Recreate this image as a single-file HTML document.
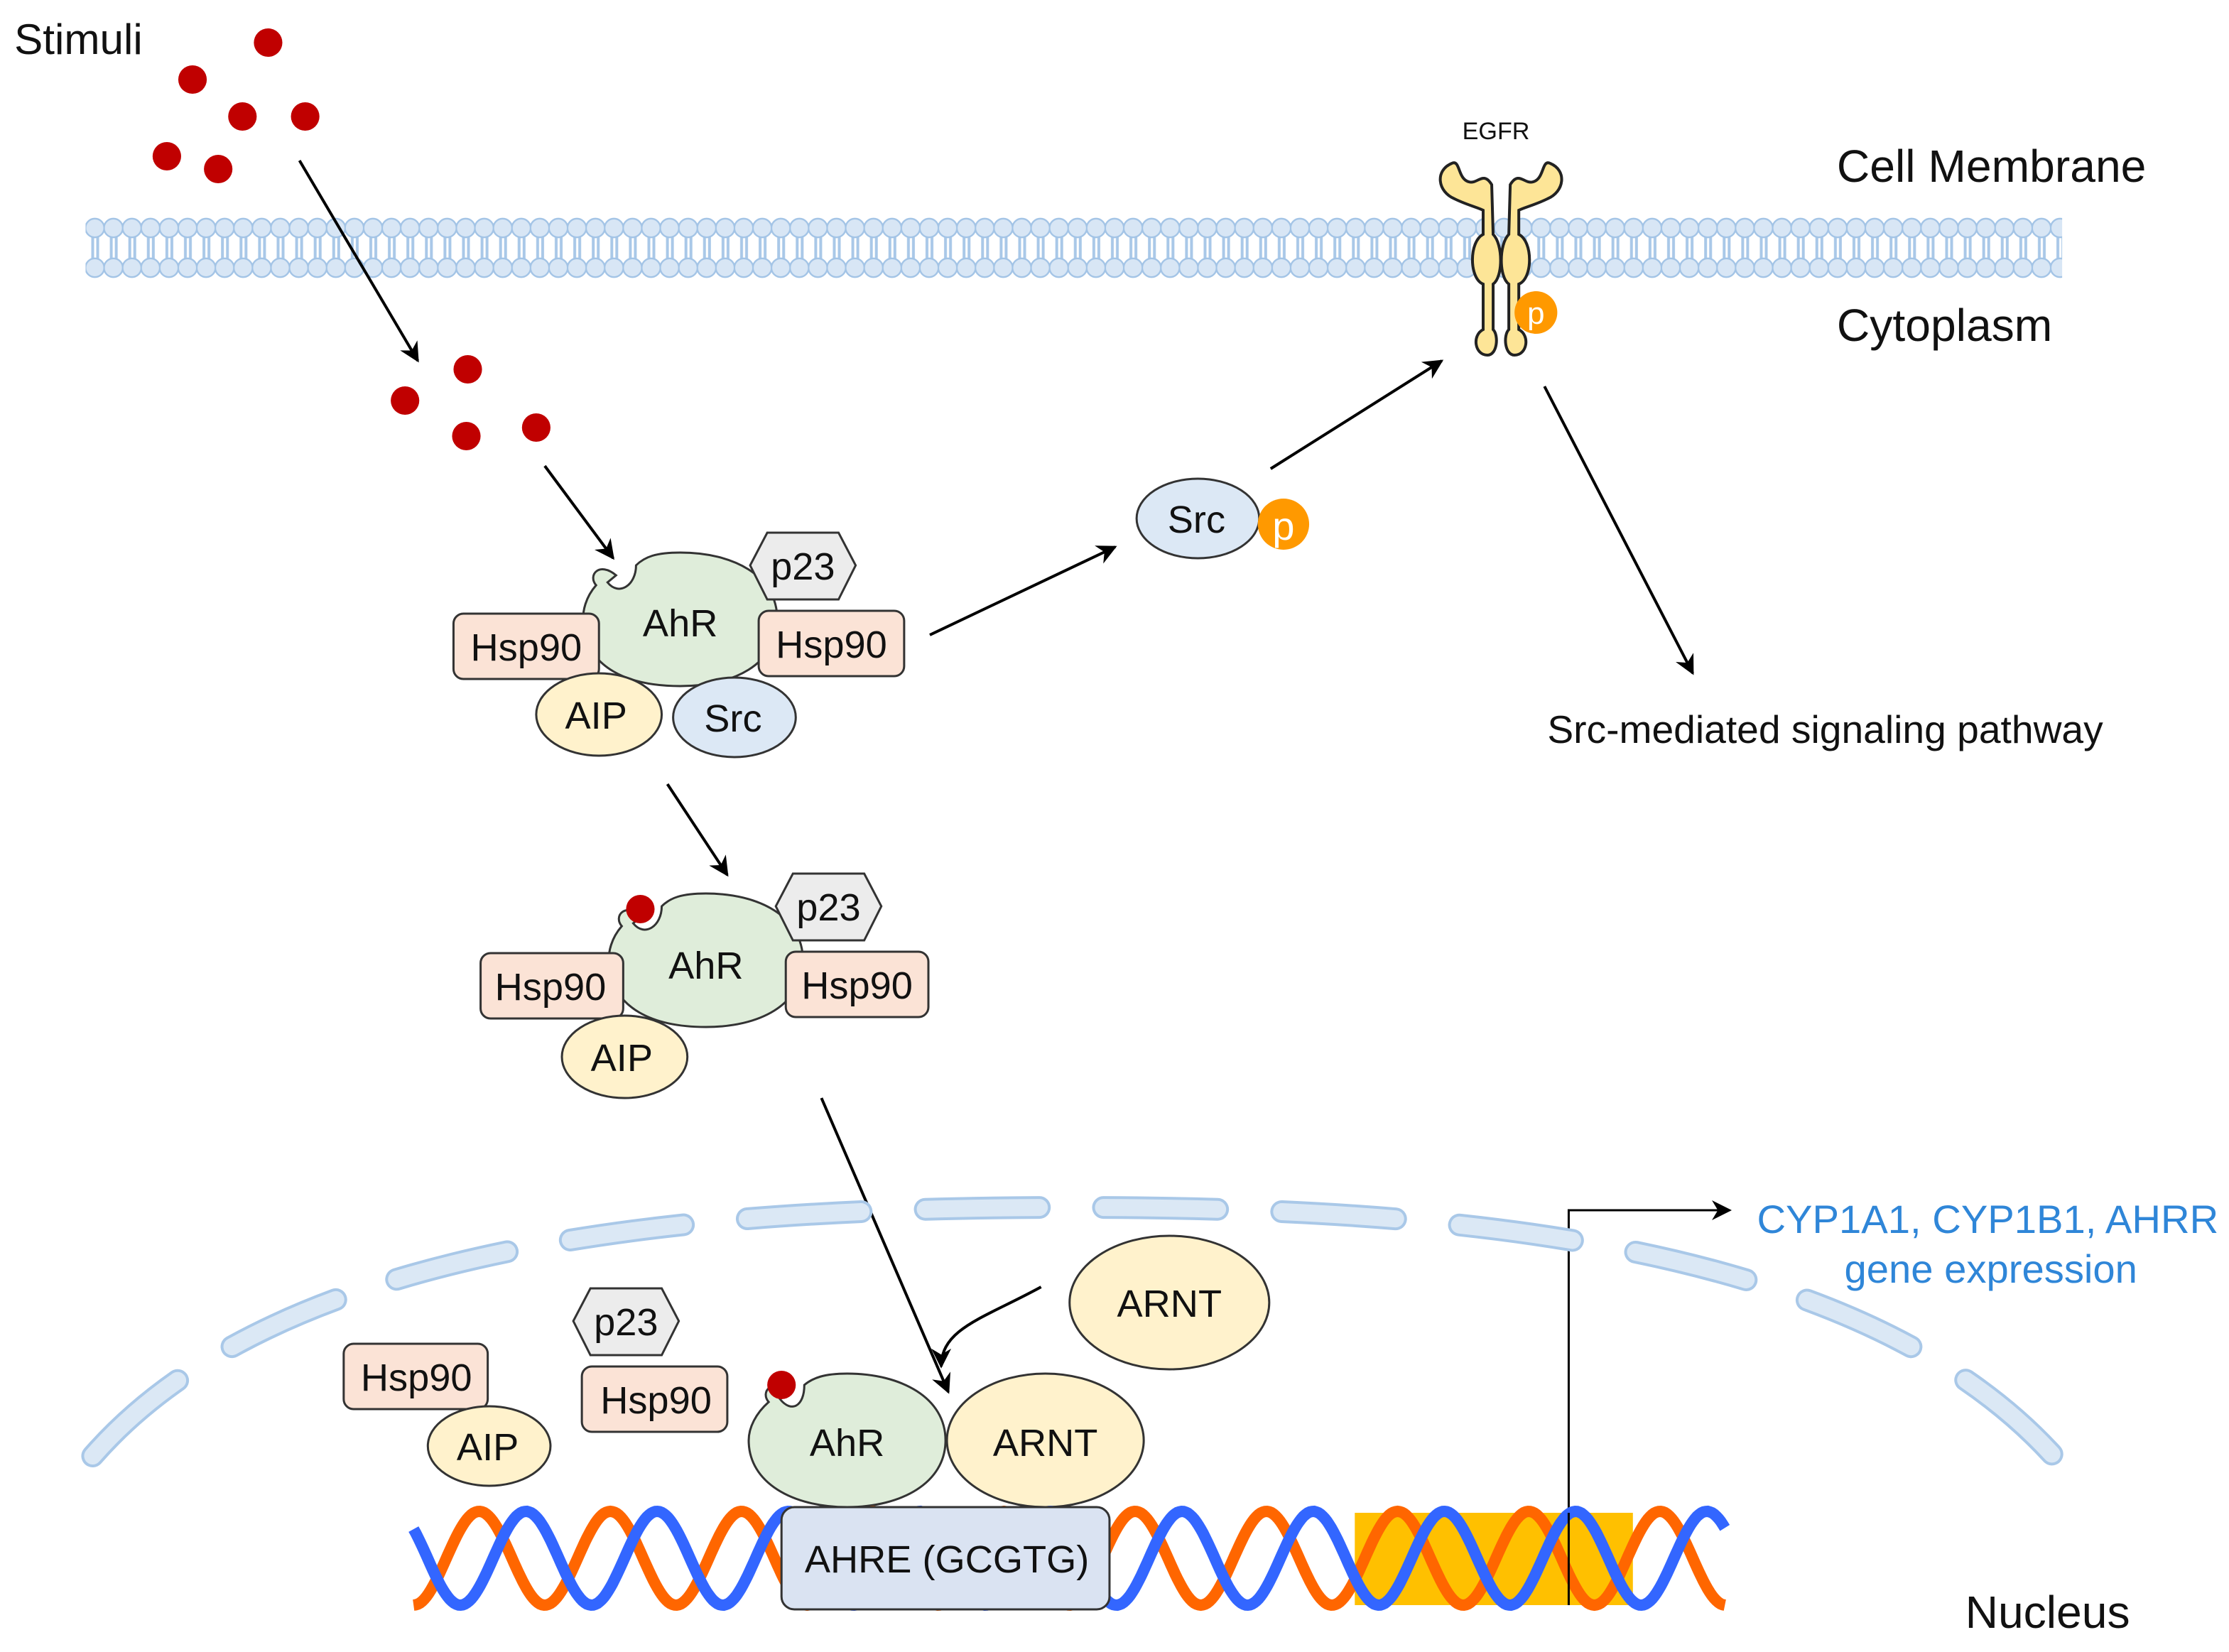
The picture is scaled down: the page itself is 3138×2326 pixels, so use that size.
<!DOCTYPE html>
<html><head><meta charset="utf-8"><style>
html,body{margin:0;padding:0;background:#fff;}
svg{display:block;}
text{font-family:"Liberation Sans",sans-serif;}
</style></head><body>
<svg id="s" width="3138" height="2326" viewBox="0 0 1563 1163" preserveAspectRatio="none" xmlns="http://www.w3.org/2000/svg">
<defs>
<marker id="ah2" viewBox="0 0 10 10" refX="9" refY="5" markerWidth="14" markerHeight="14" orient="auto" markerUnits="userSpaceOnUse"><path d="M0,0 L10,5 L0,10 L3,5 z" fill="#000"/></marker>
<pattern id="mem" x="60" y="153" width="13" height="43" patternUnits="userSpaceOnUse">
<rect x="4" y="12" width="2" height="20" fill="#a9c8e8"/><rect x="7.5" y="12" width="2" height="20" fill="#a9c8e8"/>
<circle cx="6.5" cy="7.5" r="6.6" fill="#d8e6f5" stroke="#a3c4e6" stroke-width="1.2"/>
<circle cx="6.5" cy="35.5" r="6.6" fill="#d8e6f5" stroke="#a3c4e6" stroke-width="1.2"/>
</pattern>
</defs>
<text x="10" y="38" font-size="30" fill="#111">Stimuli</text>
<g fill="#c00000">
<circle cx="188" cy="30" r="10"/><circle cx="135" cy="56" r="10"/><circle cx="170" cy="82" r="10"/><circle cx="214" cy="82" r="10"/><circle cx="117" cy="110" r="10"/><circle cx="153" cy="119" r="10"/>
<circle cx="328" cy="260" r="10"/><circle cx="284" cy="282" r="10"/><circle cx="327" cy="307" r="10"/><circle cx="376" cy="301" r="10"/>
</g>
<rect x="60" y="153" width="1386" height="43" fill="url(#mem)"/>
<text x="1049" y="98" font-size="17" text-anchor="middle" fill="#111">EGFR</text>
<g fill="#fde597" stroke="#222" stroke-width="2">
<path d="M1046,130 C1040,120 1036,130 1030,128 C1022,126 1024,112 1018,115 C1006,120 1008,135 1020,140 C1028,144 1036,146 1040,148 L1040,165 C1030,170 1030,196 1040,200 L1040,232 C1032,236 1034,250 1043,250 C1050,250 1051,236 1047,232 L1047,200 C1054,195 1054,172 1047,165 Z"/>
<path d="M1059,130 C1065,120 1069,130 1075,128 C1083,126 1081,112 1087,115 C1099,120 1097,135 1085,140 C1077,144 1069,146 1065,148 L1065,165 C1075,170 1075,196 1065,200 L1065,232 C1073,236 1071,250 1062,250 C1055,250 1054,236 1058,232 L1058,200 C1051,195 1051,172 1058,165 Z"/>
</g>
<circle cx="1077" cy="220" r="15" fill="#ff9900"/><text x="1077" y="228" font-size="22" fill="#fff" text-anchor="middle">p</text>
<text x="1288" y="128" font-size="32" fill="#111">Cell Membrane</text>
<text x="1288" y="240" font-size="32" fill="#111">Cytoplasm</text>
<g stroke="#000" stroke-width="2" fill="none">
<line x1="210" y1="113" x2="293" y2="254" marker-end="url(#ah2)"/>
<line x1="382" y1="328" x2="430" y2="393" marker-end="url(#ah2)"/>
<line x1="652" y1="447" x2="782" y2="385" marker-end="url(#ah2)"/>
<line x1="891" y1="330" x2="1011" y2="254" marker-end="url(#ah2)"/>
<line x1="1083" y1="272" x2="1187" y2="474" marker-end="url(#ah2)"/>
<line x1="468" y1="552" x2="510" y2="616" marker-end="url(#ah2)"/>
<line x1="576" y1="773" x2="665" y2="980" marker-end="url(#ah2)"/>
<path d="M730,906 C690,928 660,935 660,962" marker-end="url(#ah2)"/>
<path d="M1100,1065 L1100,852 L1213,852" stroke-width="1.5" marker-end="url(#ah2)"/>
</g>
<path d="M65,1025 C200,870 500,850 752,850 C1000,850 1300,870 1440,1025" fill="none" stroke="#a9c8e8" stroke-width="16" stroke-linecap="round" stroke-dasharray="80,45"/>
<path d="M65,1025 C200,870 500,850 752,850 C1000,850 1300,870 1440,1025" fill="none" stroke="#dbe8f5" stroke-width="12" stroke-linecap="round" stroke-dasharray="80,45"/>
<g stroke="#333" stroke-width="1.5">
<path d="M432,405 C420,395 412,405 418,412 C411,420 408,430 409,440 C412,470 440,483 477,483 C514,483 545,468 545,436 C545,405 514,389 477,389 C460,389 452,392 446,398 C446,412 434,420 426,410 Z" fill="#dfedda"/>
<polygon points="538,375 588,375 600,398 588,422 538,422 526,398" fill="#ececec"/>
<rect x="318" y="432" width="102" height="46" rx="7" fill="#fbe3d6"/>
<rect x="532" y="430" width="102" height="46" rx="7" fill="#fbe3d6"/>
<ellipse cx="420" cy="503" rx="44" ry="29" fill="#fff2cc"/>
<ellipse cx="515" cy="505" rx="43" ry="28" fill="#dce8f5"/>
<ellipse cx="840" cy="365" rx="43" ry="28" fill="#dce8f5"/>
</g>
<circle cx="900" cy="369" r="18" fill="#ff9900"/><text x="900" y="380" font-size="28" fill="#fff" text-anchor="middle">p</text>
<g font-size="27" fill="#111" text-anchor="middle">
<text x="477" y="448">AhR</text><text x="563" y="408">p23</text><text x="369" y="465">Hsp90</text><text x="583" y="463">Hsp90</text><text x="418" y="513">AIP</text><text x="514" y="515">Src</text><text x="839" y="375">Src</text>
</g>
<text x="1085" y="523" font-size="27.5" fill="#111">Src-mediated signaling pathway</text>
<g stroke="#333" stroke-width="1.5">
<path d="M450,645 C438,635 430,645 436,652 C429,660 426,670 427,680 C430,710 458,723 495,723 C532,723 563,708 563,676 C563,645 532,629 495,629 C478,629 470,632 464,638 C464,652 452,660 444,650 Z" fill="#dfedda"/>
<polygon points="556,615 606,615 618,638 606,662 556,662 544,638" fill="#ececec"/>
<rect x="337" y="671" width="100" height="46" rx="7" fill="#fbe3d6"/>
<rect x="551" y="670" width="100" height="46" rx="7" fill="#fbe3d6"/>
<ellipse cx="438" cy="744" rx="44" ry="29" fill="#fff2cc"/>
</g>
<circle cx="449" cy="640" r="10" fill="#c00000"/>
<g font-size="27" fill="#111" text-anchor="middle">
<text x="495" y="689">AhR</text><text x="581" y="648">p23</text><text x="386" y="704">Hsp90</text><text x="601" y="703">Hsp90</text><text x="436" y="754">AIP</text>
</g>
<g stroke="#333" stroke-width="1.5">
<ellipse cx="820" cy="917" rx="70" ry="47" fill="#fff2cc"/>
<polygon points="414,907 464,907 476,930 464,954 414,954 402,930" fill="#ececec"/>
<rect x="408" y="962" width="102" height="46" rx="7" fill="#fbe3d6"/>
<rect x="241" y="946" width="101" height="46" rx="7" fill="#fbe3d6"/>
<ellipse cx="343" cy="1018" rx="43" ry="28" fill="#fff2cc"/>
<path d="M553,980 C541,970 533,980 539,987 C530,995 525,1005 525,1014 C525,1044 556,1061 594,1061 C632,1061 663,1044 663,1014 C663,984 632,967 594,967 C578,967 570,970 564,975 C564,990 555,995 547,985 Z" fill="#dfedda"/>
<ellipse cx="733" cy="1014" rx="69" ry="47" fill="#fff2cc"/>
</g>
<circle cx="548" cy="975" r="10" fill="#c00000"/>
<rect x="950" y="1065" width="195" height="65" fill="#ffc000"/>
<g id="dna"></g>
<rect x="548" y="1061" width="230" height="72" rx="9" fill="#dae3f2" stroke="#333" stroke-width="1.5"/>
<g font-size="27" fill="#111" text-anchor="middle">
<text x="820" y="927">ARNT</text><text x="439" y="940">p23</text><text x="460" y="995">Hsp90</text><text x="292" y="979">Hsp90</text><text x="342" y="1028">AIP</text>
<text x="594" y="1025">AhR</text><text x="733" y="1025">ARNT</text><text x="664" y="1107">AHRE (GCGTG)</text>
</g>
<line x1="1100" y1="1065" x2="1100" y2="1130" stroke="#000" stroke-width="1.5"/>
<text x="1232" y="868" font-size="28" fill="#2f86d8">CYP1A1, CYP1B1, AHRR</text>
<text x="1396" y="903" font-size="28" fill="#2f86d8" text-anchor="middle">gene expression</text>
<text x="1378" y="1146" font-size="32" fill="#111">Nucleus</text>
</svg>
<script>
(function(){
var g=document.getElementById('dna');var P=92,A=33,yc=1097;
function wave(ph){var d='';for(var x=290;x<=1210;x+=1.5){var y=yc+A*Math.sin(2*Math.PI*(x-290)/P+ph);d+=(x==290?'M':'L')+x+','+y.toFixed(1);}return d;}
var ns='http://www.w3.org/2000/svg';
[['#ff6600',Math.PI/2],['#3366ff',-Math.PI/2+0.9]].forEach(function(c){var p=document.createElementNS(ns,'path');p.setAttribute('d',wave(c[1]));p.setAttribute('stroke',c[0]);p.setAttribute('stroke-width','8');p.setAttribute('fill','none');g.appendChild(p);});
})();
</script>
</body></html>
